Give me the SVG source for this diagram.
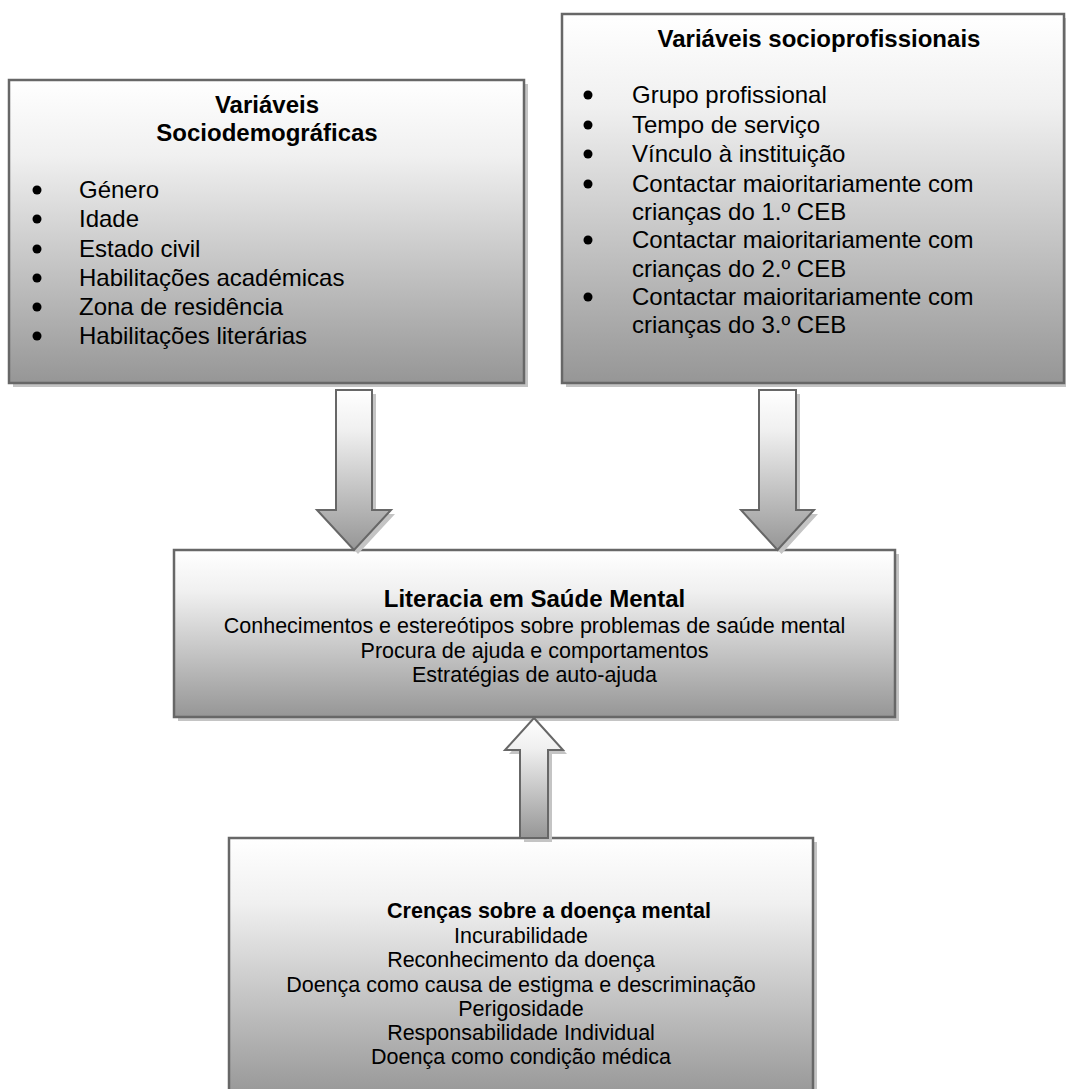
<svg xmlns="http://www.w3.org/2000/svg" width="1066" height="1089" viewBox="0 0 1066 1089">
<defs>
<linearGradient id="g" x1="0" y1="0" x2="0" y2="1">
<stop offset="0" stop-color="#ffffff"/>
<stop offset="0.25" stop-color="#f0f0f0"/>
<stop offset="1" stop-color="#969696"/>
</linearGradient>
<style>
.box{fill:url(#g);stroke:#676767;stroke-width:2.5}
.sh{fill:#c4c4c4}
.arr{fill:url(#g);stroke:#676767;stroke-width:2}
text{font-family:"Liberation Sans",Arial,sans-serif;fill:#000}
.t24{font-size:24px}
.b24{font-size:24px;font-weight:bold}
.t21{font-size:21.5px}
.b21{font-size:21.5px;font-weight:bold}
.mid{text-anchor:middle}
.bul{fill:#000}
</style>
</defs>
<rect width="1066" height="1089" fill="#fff"/>

<g id="sociodemograficas">
<rect class="sh" x="13" y="84" width="515" height="303"/>
<rect class="box" x="9" y="80" width="515" height="303"/>
<text class="b24 mid" x="267" y="113">Variáveis</text>
<text class="b24 mid" x="267" y="141">Sociodemográficas</text>
<g class="bul">
<circle cx="37" cy="190" r="4.5"/><circle cx="37" cy="219" r="4.5"/><circle cx="37" cy="249" r="4.5"/>
<circle cx="37" cy="278" r="4.5"/><circle cx="37" cy="307" r="4.5"/><circle cx="37" cy="336" r="4.5"/>
</g>
<text class="t24" x="79" y="198">Género</text>
<text class="t24" x="79" y="227">Idade</text>
<text class="t24" x="79" y="257">Estado civil</text>
<text class="t24" x="79" y="286">Habilitações académicas</text>
<text class="t24" x="79" y="315">Zona de residência</text>
<text class="t24" x="79" y="344">Habilitações literárias</text>
</g>

<g id="socioprofissionais">
<rect class="sh" x="566" y="18" width="503" height="369"/>
<rect class="box" x="562" y="14" width="502" height="369"/>
<text class="b24 mid" x="819" y="47">Variáveis socioprofissionais</text>
<g class="bul">
<circle cx="588" cy="95" r="4.5"/><circle cx="588" cy="125" r="4.5"/><circle cx="588" cy="154" r="4.5"/>
<circle cx="588" cy="184" r="4.5"/><circle cx="588" cy="240" r="4.5"/><circle cx="588" cy="297" r="4.5"/>
</g>
<text class="t24" x="632" y="103">Grupo profissional</text>
<text class="t24" x="632" y="133">Tempo de serviço</text>
<text class="t24" x="632" y="162">Vínculo à instituição</text>
<text class="t24" x="632" y="192">Contactar maioritariamente com</text>
<text class="t24" x="632" y="220">crianças do 1.º CEB</text>
<text class="t24" x="632" y="248">Contactar maioritariamente com</text>
<text class="t24" x="632" y="277">crianças do 2.º CEB</text>
<text class="t24" x="632" y="305">Contactar maioritariamente com</text>
<text class="t24" x="632" y="333">crianças do 3.º CEB</text>
</g>

<g id="literacia">
<rect class="sh" x="178" y="554" width="721" height="167"/>
<rect class="box" x="174" y="550" width="721" height="167"/>
<text class="b24 mid" x="534.5" y="607">Literacia em Saúde Mental</text>
<text class="t21 mid" x="534.5" y="633">Conhecimentos e estereótipos sobre problemas de saúde mental</text>
<text class="t21 mid" x="534.5" y="658">Procura de ajuda e comportamentos</text>
<text class="t21 mid" x="534.5" y="682">Estratégias de auto-ajuda</text>
</g>

<g id="crencas">
<rect class="sh" x="233" y="842" width="584" height="260"/>
<rect class="box" x="229" y="838" width="584" height="260"/>
<text class="b21 mid" x="549" y="918">Crenças sobre a doença mental</text>
<text class="t21 mid" x="521" y="943">Incurabilidade</text>
<text class="t21 mid" x="521" y="967">Reconhecimento da doença</text>
<text class="t21 mid" x="521" y="992">Doença como causa de estigma e descriminação</text>
<text class="t21 mid" x="521" y="1016">Perigosidade</text>
<text class="t21 mid" x="521" y="1040">Responsabilidade Individual</text>
<text class="t21 mid" x="521" y="1064">Doença como condição médica</text>
</g>

<g id="connectors">
<g transform="translate(4,4)" class="sh">
<polygon points="336,390 372,390 372,510 391,510 354,550 317,510 336,510"/>
<polygon points="759,390 796,390 796,510 814,510 777.5,550 741,510 759,510"/>
<polygon points="534,718 563,750 548,750 548,838 520,838 520,750 505,750"/>
</g>
<polygon class="arr" points="336,390 372,390 372,510 391,510 354,550 317,510 336,510"/>
<polygon class="arr" points="759,390 796,390 796,510 814,510 777.5,550 741,510 759,510"/>
<polygon class="arr" points="534,718 563,750 548,750 548,838 520,838 520,750 505,750"/>
</g>
</svg>
